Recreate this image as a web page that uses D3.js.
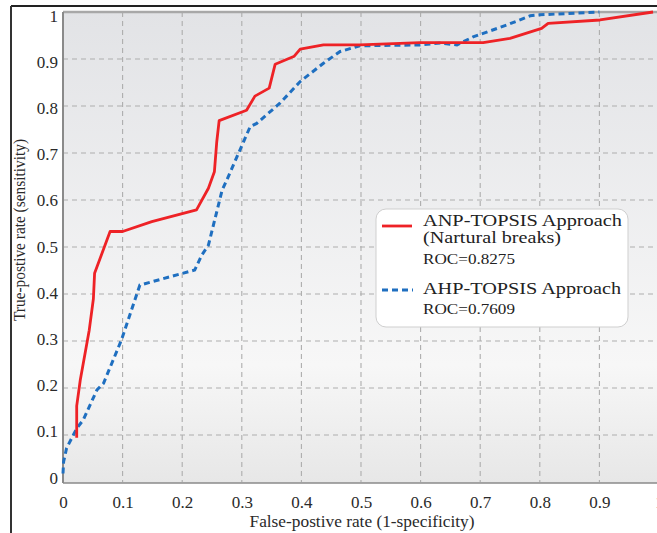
<!DOCTYPE html>
<html>
<head>
<meta charset="utf-8">
<script src="https://cdn.jsdelivr.net/npm/d3@7"></script>
<style>
  html, body { margin: 0; padding: 0; background: #ffffff; }
  svg { display: block; }
  text { font-family: "Liberation Serif", "Times New Roman", serif; fill: #333; }
</style>
</head>
<body>
<svg id="chart" width="657" height="533"></svg>
<script>
// ---------- data ----------
const anpFpr = [0.023, 0.023, 0.029, 0.044, 0.051, 0.053, 0.079, 0.100, 0.149, 0.224, 0.244, 0.254, 0.258, 0.262, 0.308, 0.322, 0.346, 0.356, 0.388, 0.398, 0.437, 0.498, 0.599, 0.633, 0.705, 0.750, 0.803, 0.814, 0.901, 0.990];
const anpTpr = [0.094, 0.162, 0.217, 0.323, 0.390, 0.444, 0.533, 0.533, 0.554, 0.579, 0.625, 0.660, 0.724, 0.769, 0.791, 0.821, 0.838, 0.889, 0.906, 0.921, 0.930, 0.930, 0.935, 0.935, 0.935, 0.944, 0.965, 0.976, 0.983, 1.000];

const ahpFpr = [0.000, 0.001, 0.006, 0.023, 0.034, 0.057, 0.068, 0.098, 0.129, 0.221, 0.233, 0.244, 0.267, 0.275, 0.314, 0.325, 0.364, 0.398, 0.437, 0.465, 0.498, 0.599, 0.633, 0.661, 0.688, 0.744, 0.784, 0.800, 0.900];
const ahpTpr = [0.018, 0.043, 0.072, 0.114, 0.132, 0.196, 0.210, 0.302, 0.419, 0.451, 0.483, 0.504, 0.621, 0.643, 0.756, 0.763, 0.806, 0.852, 0.891, 0.916, 0.928, 0.930, 0.934, 0.930, 0.947, 0.972, 0.992, 0.994, 1.000];

const tickValues = [0, 0.1, 0.2, 0.3, 0.4, 0.5, 0.6, 0.7, 0.8, 0.9, 1];
const tickLabels = ["0", "0.1", "0.2", "0.3", "0.4", "0.5", "0.6", "0.7", "0.8", "0.9", "1"];
const gridValues = [0.1, 0.2, 0.3, 0.4, 0.5, 0.6, 0.7, 0.8, 0.9];

const seriesNames = ["ANP-TOPSIS Approach", "AHP-TOPSIS Approach"];
const seriesSub = ["(Nartural breaks)", null];
const rocValues = ["ROC=0.8275", "ROC=0.7609"];
const seriesColors = ["#ee2226", "#1f6fc0"];

const xTitle = "False-postive rate (1-specificity)";
const yTitle = "True-postive rate (sensitivity)";

// ---------- layout ----------
const svg = d3.select("#chart");
const L = 63, R = 659, T = 12, B = 482;
const x = d3.scaleLinear().domain([0, 1]).range([L, R]);
const y = d3.scaleLinear().domain([0, 1]).range([B, T]);
const yLabelPos = d3.scaleLinear().domain([0, 1]).range([483, 21]);

// outer frame
svg.append("line").attr("x1", 11).attr("x2", 657).attr("y1", 6).attr("y2", 6)
  .attr("stroke", "#222").attr("stroke-width", 2);
svg.append("line").attr("x1", 11).attr("x2", 11).attr("y1", 6).attr("y2", 533)
  .attr("stroke", "#333").attr("stroke-width", 2);

// background gradient
const defs = svg.append("defs");
const grad = defs.append("linearGradient").attr("id", "bg")
  .attr("x1", 0).attr("y1", 0).attr("x2", 0).attr("y2", 1);
grad.append("stop").attr("offset", "0%").attr("stop-color", "#e2e3e6");
grad.append("stop").attr("offset", "75%").attr("stop-color", "#f7f7f7");
grad.append("stop").attr("offset", "100%").attr("stop-color", "#e7e7e7");

svg.append("rect").attr("x", L).attr("y", T).attr("width", R - L).attr("height", B - T + 1)
  .attr("fill", "url(#bg)");

// grid
const grid = svg.append("g");
grid.selectAll(".vg").data(gridValues).join("line")
  .attr("x1", d => x(d)).attr("x2", d => x(d)).attr("y1", T).attr("y2", B)
  .attr("stroke", "#adadad").attr("stroke-width", 1.1).attr("stroke-dasharray", "5,4");
grid.selectAll(".hg").data(gridValues).join("line")
  .attr("x1", L).attr("x2", R).attr("y1", d => y(d)).attr("y2", d => y(d))
  .attr("stroke", "#adadad").attr("stroke-width", 1.1).attr("stroke-dasharray", "5,4");

// plot borders
svg.append("line").attr("x1", L).attr("x2", R).attr("y1", T).attr("y2", T)
  .attr("stroke", "#a8a8a8").attr("stroke-width", 2.5);
svg.append("line").attr("x1", L).attr("x2", L).attr("y1", T).attr("y2", B + 1)
  .attr("stroke", "#8a8a8a").attr("stroke-width", 2);
svg.append("line").attr("x1", L).attr("x2", R).attr("y1", B + 1).attr("y2", B + 1)
  .attr("stroke", "#8a8a8a").attr("stroke-width", 1.5);

// axes
const fmt = d => tickLabels[tickValues.indexOf(d)];
const xAxis = svg.append("g").attr("transform", `translate(0,${B + 1})`)
  .call(d3.axisBottom(x).tickValues(tickValues).tickFormat(fmt).tickSize(0).tickPadding(13));
xAxis.select(".domain").remove();
xAxis.selectAll("text")
  .style("font-family", "'Liberation Serif', 'Times New Roman', serif")
  .style("font-size", "17px").style("fill", "#2a2a2a");

const yAxis = svg.append("g").attr("transform", `translate(${L},0)`)
  .call(d3.axisLeft(y).tickValues(tickValues).tickFormat(fmt).tickSize(0).tickPadding(5));
yAxis.select(".domain").remove();
yAxis.selectAll("text")
  .style("font-family", "'Liberation Serif', 'Times New Roman', serif")
  .style("font-size", "17px").style("fill", "#2a2a2a")
  .attr("dy", null)
  .attr("y", d => yLabelPos(d) - y(d));

// axis titles
svg.append("text").attr("x", (L + R) / 2 + 1).attr("y", 527).attr("text-anchor", "middle")
  .style("font-size", "17px").style("fill", "#2a2a2a").attr("textLength", 225).attr("lengthAdjust", "spacingAndGlyphs")
  .text(xTitle);
svg.append("text").attr("transform", "translate(25,230) rotate(-90)").attr("text-anchor", "middle")
  .style("font-size", "16.5px").style("fill", "#2a2a2a").attr("textLength", 182).attr("lengthAdjust", "spacingAndGlyphs")
  .text(yTitle);

// curves
const line = d3.line().x(d => x(d[0])).y(d => y(d[1]));
const anpData = anpFpr.map((v, i) => [v, anpTpr[i]]);
const ahpData = ahpFpr.map((v, i) => [v, ahpTpr[i]]);

svg.append("path").datum(ahpData).attr("d", line)
  .attr("fill", "none").attr("stroke", seriesColors[1]).attr("stroke-width", 3)
  .attr("stroke-dasharray", "6,4");
svg.append("path").datum(anpData).attr("d", line)
  .attr("fill", "none").attr("stroke", seriesColors[0]).attr("stroke-width", 2.8)
  .attr("stroke-linejoin", "round");

// legend
const lg = svg.append("g");
lg.append("rect").attr("x", 376).attr("y", 209).attr("width", 252).attr("height", 118)
  .attr("rx", 10).attr("fill", "#ffffff").attr("stroke", "#cfcfcf").attr("stroke-width", 1);
lg.append("line").attr("x1", 382).attr("x2", 412).attr("y1", 226).attr("y2", 226)
  .attr("stroke", seriesColors[0]).attr("stroke-width", 2.8);
lg.append("line").attr("x1", 382).attr("x2", 413).attr("y1", 290).attr("y2", 290)
  .attr("stroke", seriesColors[1]).attr("stroke-width", 3).attr("stroke-dasharray", "6,4");

const addText = (t, yy, size, len) => lg.append("text").attr("x", 423).attr("y", yy)
  .style("font-size", size + "px").style("fill", "#222")
  .attr("textLength", len).attr("lengthAdjust", "spacingAndGlyphs").text(t);
addText(seriesNames[0], 226, 16.5, 199);
addText(seriesSub[0], 243, 16.5, 138);
addText(rocValues[0], 264, 15.5, 92);
addText(seriesNames[1], 294, 16.5, 198);
addText(rocValues[1], 314, 15.5, 92);
</script>
</body>
</html>
